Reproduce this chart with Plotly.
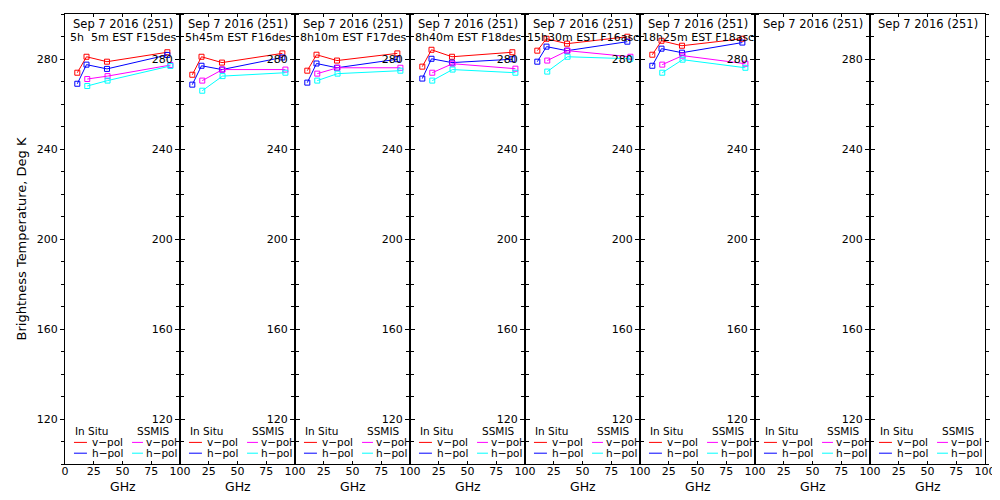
import plotly.graph_objects as go

# Frequencies (GHz)
INSITU_GHZ = [10.7, 18.7, 36.5, 89.0]
SSMIS_GHZ = [19.35, 37.0, 91.655]

DATE_LABEL = "Sep 7 2016 (251)"
PASS_LABELS = [
    "5h\u20075m EST F15des",
    "5h45m EST F16des",
    "8h10m EST F17des",
    "8h40m EST F18des",
    "15h30m EST F16asc",
    "18h25m EST F18asc",
    "",
    "",
]

# Brightness temperatures (K), one list per panel; empty = no overpass
INSITU_V = [
    [273.9, 281.0, 278.8, 283.0],
    [273.0, 281.0, 278.4, 282.5],
    [274.8, 281.9, 279.3, 282.5],
    [276.6, 284.1, 281.0, 283.0],
    [283.7, 289.0, 286.8, 289.9],
    [281.9, 288.1, 285.9, 289.0],
    [], [],
]
INSITU_H = [
    [269.0, 277.5, 275.6, 281.8],
    [268.6, 277.0, 275.3, 280.7],
    [269.5, 278.0, 276.1, 279.9],
    [271.3, 280.1, 278.4, 279.9],
    [278.8, 285.5, 283.7, 287.7],
    [277.0, 284.6, 282.8, 287.3],
    [], [],
]
SSMIS_V = [
    [271.1, 272.4, 277.3],
    [270.4, 275.3, 275.3],
    [273.5, 276.1, 276.1],
    [273.9, 277.9, 275.7],
    [279.3, 283.7, 281.0],
    [277.5, 281.5, 277.9],
    [], [],
]
SSMIS_H = [
    [268.0, 270.4, 276.9],
    [265.9, 272.4, 273.9],
    [270.4, 273.5, 274.8],
    [270.4, 275.3, 273.9],
    [274.4, 281.0, 280.1],
    [273.9, 279.7, 276.1],
    [], [],
]

Y_LABELS = [120, 160, 200, 240, 280]
X_TICKS = [0, 25, 50, 75, 100]

RED, BLUE, MAGENTA, CYAN = "#ff0000", "#0000ff", "#ff00ff", "#00ffff"
FONT = "DejaVu Sans"
BG = "#ffffff"

N = 8
fig = go.Figure()
layout = {}
annotations = []
shapes = []


def series(fig, x, y, color, xa, ya):
    fig.add_trace(go.Scatter(
        x=x if y else [], y=y, mode="lines+markers",
        xaxis=xa, yaxis=ya, showlegend=False,
        line=dict(color=color, width=1),
        marker=dict(symbol="square-open", size=5, color=color,
                    line=dict(color=color, width=1)),
    ))


for i in range(N):
    sfx = "" if i == 0 else str(i + 1)
    xa, ya = "x" + sfx, "y" + sfx
    d0, d1 = i / N, (i + 1) / N

    series(fig, INSITU_GHZ, INSITU_V[i], RED, xa, ya)
    series(fig, INSITU_GHZ, INSITU_H[i], BLUE, xa, ya)
    series(fig, SSMIS_GHZ, SSMIS_V[i], MAGENTA, xa, ya)
    series(fig, SSMIS_GHZ, SSMIS_H[i], CYAN, xa, ya)

    # "0" of panels 2..8 sits under the "100" of the panel to the left
    xtext = [str(v) if (v != 0 or i == 0) else "" for v in X_TICKS]
    layout["xaxis" + sfx] = dict(
        domain=[d0, d1], anchor=ya, range=[0, 100],
        tickvals=X_TICKS, ticktext=xtext,
        ticks="inside", ticklen=3, tickcolor="black", ticklabelstandoff=-3,
        showline=True, linecolor="black", linewidth=1, mirror="ticks",
        showgrid=False, zeroline=False, automargin=False,
        tickfont=dict(size=11, color="black", family=FONT),
    )
    layout["yaxis" + sfx] = dict(
        domain=[0, 1], anchor=xa, range=[100, 300],
        tickvals=Y_LABELS, ticks="outside", ticklen=4, tickcolor="black",
        minor=dict(dtick=10, tick0=100, ticks="outside", ticklen=3,
                   tickcolor="black"),
        showline=True, linecolor="black", linewidth=1, mirror="ticks",
        showgrid=False, zeroline=False, automargin=False,
        tickfont=dict(size=11, color="black", family=FONT),
    )

    xd, yd = xa + " domain", ya + " domain"
    annotations.append(dict(text="GHz", xref=xd, yref=yd, x=0.5, y=-0.049,
                            showarrow=False, xanchor="center", yanchor="middle",
                            font=dict(size=12.5, color="black", family=FONT)))

    # panel header
    annotations.append(dict(text=DATE_LABEL, xref=xd, yref=yd, x=0.5, y=0.978,
                            showarrow=False, xanchor="center", yanchor="middle",
                            font=dict(size=11.5, color="black", family=FONT)))
    if PASS_LABELS[i]:
        annotations.append(dict(text=PASS_LABELS[i], xref=xd, yref=yd, x=0.5,
                                y=0.947, showarrow=False, xanchor="center",
                                yanchor="middle",
                                font=dict(size=11, color="black", family=FONT)))

    # in-panel key
    key_font = dict(size=10.5, color="black", family=FONT)
    annotations.append(dict(text="In Situ", xref=xd, yref=yd, x=0.229, y=0.074,
                            showarrow=False, xanchor="center", yanchor="middle",
                            font=key_font))
    annotations.append(dict(text="SSMIS", xref=xd, yref=yd, x=0.765, y=0.074,
                            showarrow=False, xanchor="center", yanchor="middle",
                            font=key_font))
    for (yy, lab, c1, c2) in [(0.048, "v\u2212pol", RED, MAGENTA),
                              (0.024, "h\u2212pol", BLUE, CYAN)]:
        for (x0, x1, xt, col) in [(0.078, 0.191, 0.22, c1),
                                  (0.583, 0.678, 0.69, c2)]:
            shapes.append(dict(type="line", xref=xd, yref=yd, x0=x0, x1=x1,
                               y0=yy, y1=yy, line=dict(color=col, width=1)))
            annotations.append(dict(text=lab, xref=xd, yref=yd, x=xt, y=yy,
                                    showarrow=False, xanchor="left",
                                    yanchor="middle", font=key_font))

annotations.append(dict(text="Brightness Temperature, Deg K", xref="paper",
                        yref="paper", x=-0.0473, y=0.5, textangle=-90,
                        showarrow=False, xanchor="center", yanchor="middle",
                        font=dict(size=13, color="black", family=FONT)))

# page body keeps an 8px margin, so the figure is 8px smaller than the window
fig.update_layout(
    **layout,
    width=992, height=492,
    margin=dict(l=57, r=15, t=6, b=36),
    paper_bgcolor=BG, plot_bgcolor=BG,
    annotations=annotations, shapes=shapes,
    font=dict(family=FONT, color="black"),
)

fig.write_html("out.html")
